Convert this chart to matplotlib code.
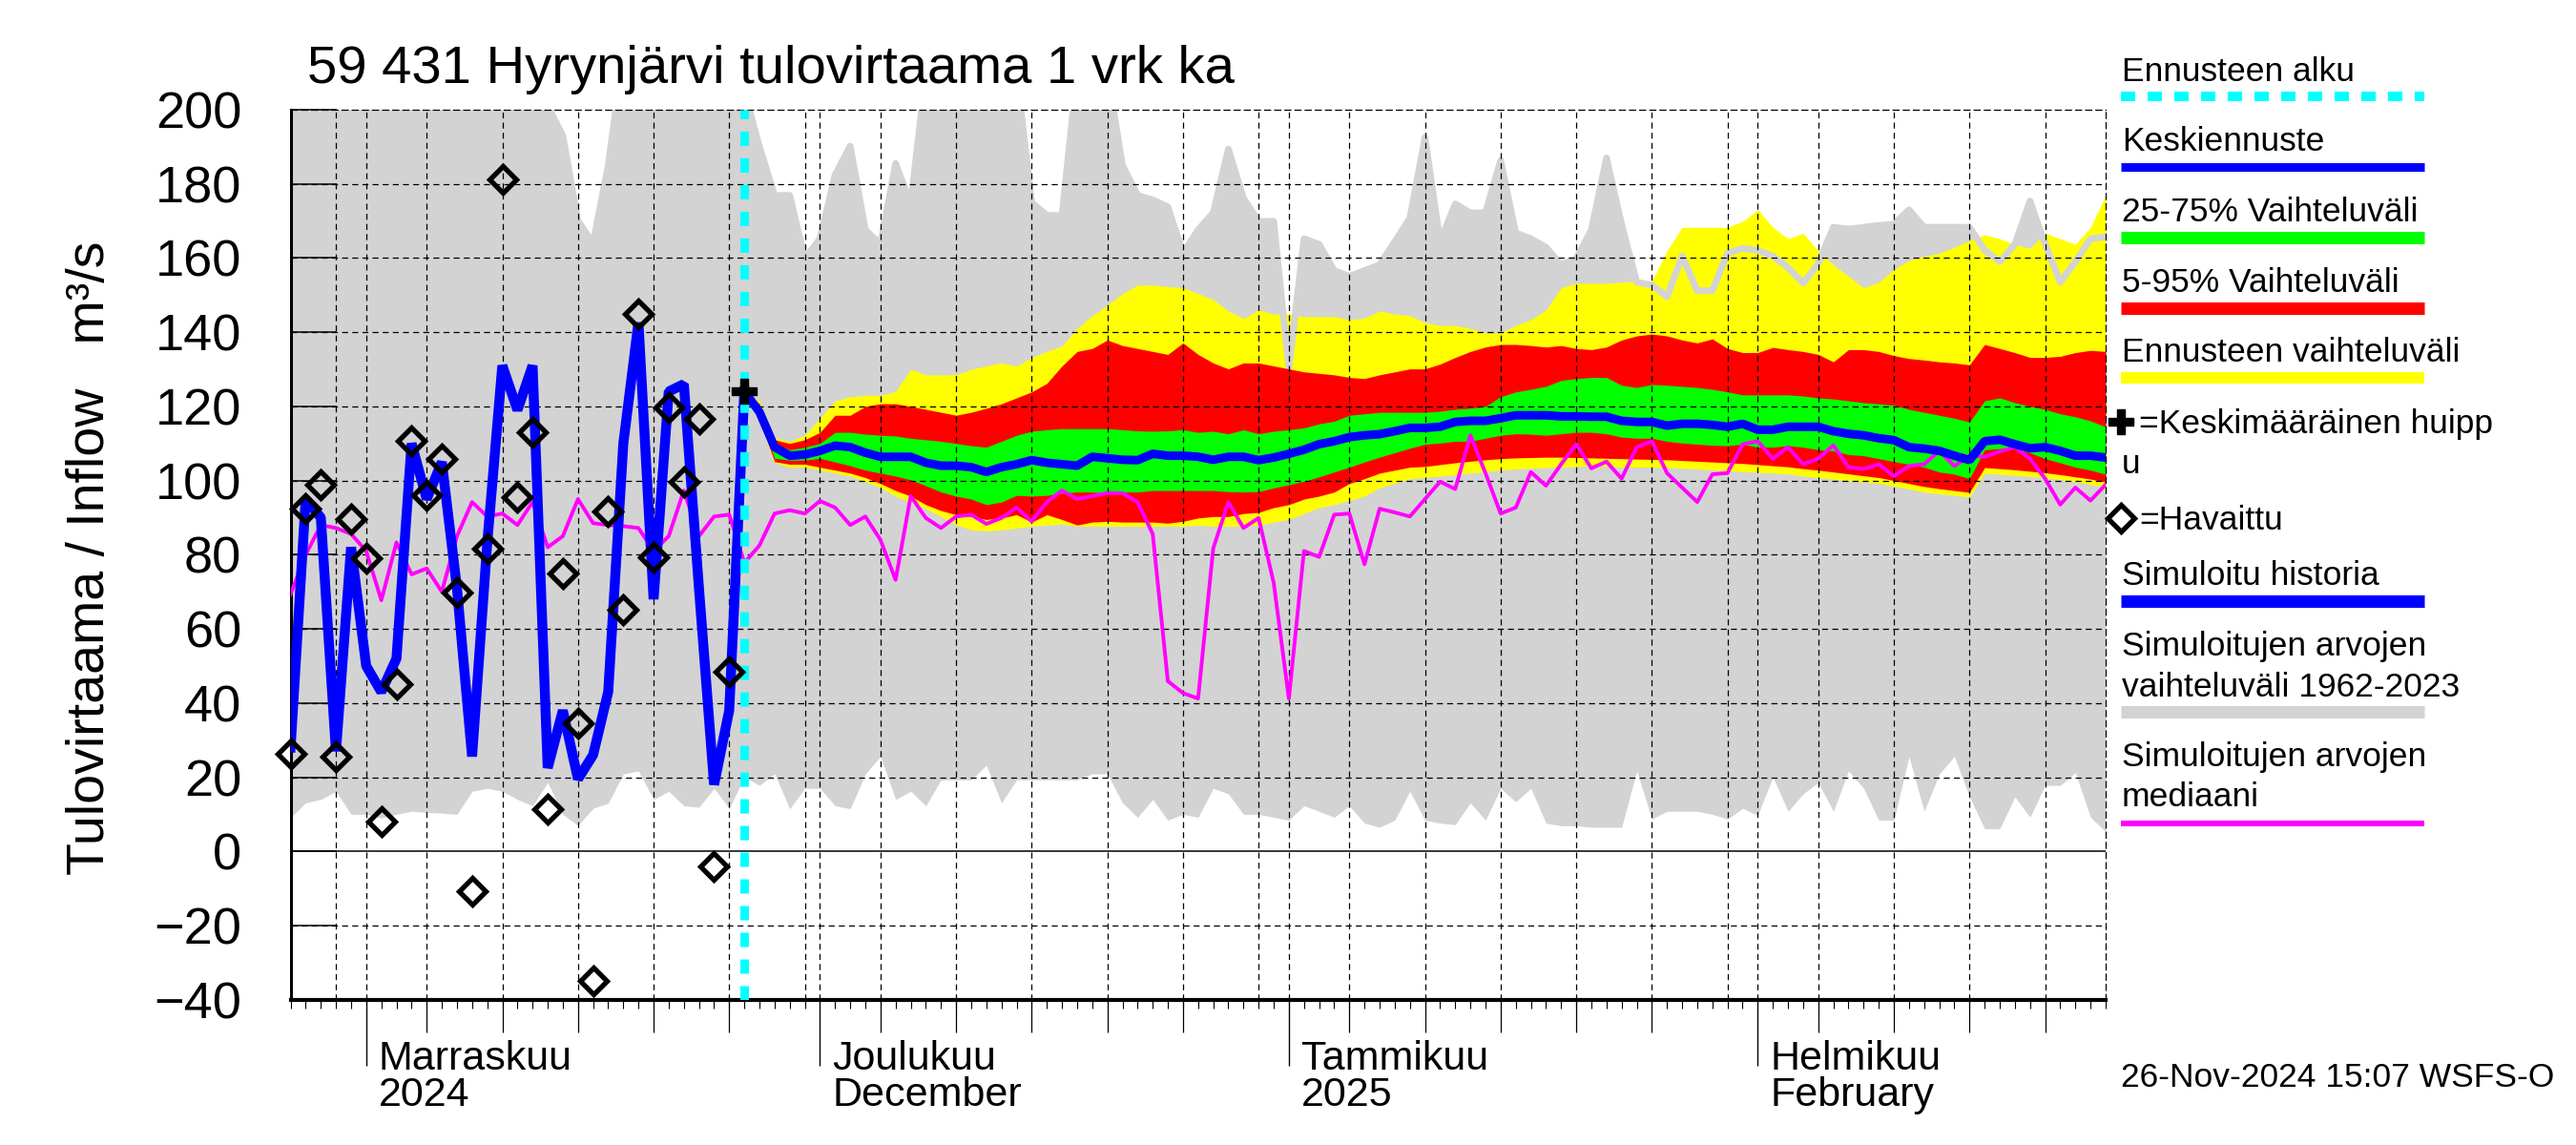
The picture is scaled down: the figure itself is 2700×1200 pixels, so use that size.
import numpy as np
import pandas as pd
import matplotlib
matplotlib.use("Agg")
import matplotlib.pyplot as plt
import matplotlib.dates as mdates
from matplotlib.ticker import NullFormatter
from matplotlib.lines import Line2D

plt.rcParams['font.family'] = ['Liberation Sans', 'DejaVu Sans']

# --- data -------------------------------------------------------------
days = pd.date_range("2024-10-27", "2025-02-24", freq="D")      # 121 days
fc_start = pd.Timestamp("2024-11-26")
fc_days = pd.date_range(fc_start, "2025-02-24", freq="D")       # 91 days

# observed inflow, Oct 27 .. Nov 25
observed = [26.4, 92.4, 98.9, 25.6, 89.5, 79.1, 8.1, 45.1, 110.6, 96.1,
            105.9, 69.7, -10.8, 81.7, 181.1, 95.5, 113, 11.5, 75, 34.6,
            -34.8, 91.6, 65.1, 144.9, 79.4, 119.7, 99.7, 116.5, -4, 48.5]

# simulated history, Oct 27 .. Nov 26
sim_history = [28, 95, 90, 27, 82, 50, 43, 52, 110, 95,
               105, 71, 25.6, 83, 131, 119, 131, 22.5, 38, 19.5,
               26, 43, 110, 142.6, 68, 124, 126, 71, 18, 38, 124]

# simulated 1962-2023 median, Oct 27 .. Feb 24
hist_median = [69.3, 80, 88, 87.2, 85.6, 81, 67.7, 83.3, 74.7, 76.3,
               70, 85, 94.2, 90.3, 91.1, 88, 94.2, 82, 85, 95,
               88.5, 88, 87.7, 87.2, 81, 85, 97.3, 85, 90.3, 90.8,
               77.8, 82.5, 91.1, 92, 91.1, 94.5, 92.7, 88, 90.3, 84,
               73.2, 95.8, 89.9, 87.2, 90.3, 90.8, 88.3, 89.9, 92.7, 89,
               94.2, 97.3, 95, 95.8, 96.6, 96.6, 94.2, 85.6, 45.9, 42.7,
               41.2, 81.7, 94.2, 87.2, 89.9, 72.4, 41.2, 81, 79.4, 90.8,
               91.1, 77.4, 92.4, 91.4, 90.3, 95, 99.7, 97.7, 112.2, 102,
               91.1, 92.7, 102.3, 98.6, 104.4, 109.8, 103.3, 105.1, 100.5, 109,
               110.6, 102, 98.1, 94.2, 101.7, 102, 109.8, 110.6, 105.9, 109,
               104.4, 105.9, 109.5, 103.6, 103.1, 104.4, 101.2, 103.9, 104.4, 108,
               103.9, 106.7, 106.4, 107.8, 109, 105.9, 100.5, 93.5, 98.1, 94.6,
               98.9]

# simulated 1962-2023 range (max / min)
hist_max = [215, 220, 225, 230, 225, 220, 230, 235, 230, 225,
            230, 235, 240, 235, 230, 225, 215, 201, 193, 170,
            164, 185, 215, 225, 230, 235, 230, 225, 220, 215,
            205, 190, 176.9, 176.9, 159.8, 165.2, 182.4, 190.2, 167.6, 163.7,
            185.5, 174.6, 210, 215, 220, 220, 215, 210, 210, 175,
            171.5, 171.5, 210, 215, 210, 185, 176.9, 175.7, 173.8, 161.3,
            167.6, 172.2, 189.4, 176.1, 169.9, 169.9, 130.1, 165.2, 163.7, 156.6,
            155.1, 156.6, 158.2, 164.4, 170.7, 192.5, 164.4, 174.6, 172.2, 172.2,
            186.3, 166.8, 165.2, 162.9, 158.2, 159.8, 167.6, 187, 169.1, 153.5,
            152.7, 149.6, 160.5, 151.2, 151.2, 161.3, 162.6, 162.1, 160.5, 157.4,
            153.2, 158.5, 168.3, 167.8, 168.3, 168.8, 169.1, 173, 168.3, 168.3,
            168.3, 168.3, 162.1, 159, 163.7, 175.4, 163.7, 153.5, 159, 165.2,
            165.7]
hist_min = [9.2, 13.1, 14, 16.2, 10, 10, 9, 10, 10.8, 10.5,
            10.3, 10, 16.2, 17, 16.2, 14, 12.3, 18.6, 10, 7,
            11.6, 13, 20.9, 21.7, 14, 16.2, 12.3, 11.9, 17, 11.6,
            20.1, 17.8, 20.9, 11.5, 17, 17, 12.3, 11.5, 20.9, 25.6,
            14, 16.2, 12.3, 19.3, 19.3, 19.3, 23.2, 13.1, 19.3, 19.3,
            19.3, 19.3, 19.3, 20.9, 20.9, 13.1, 9.2, 14, 8.4, 10,
            9.2, 17, 15.5, 10, 10, 9.2, 8.4, 12.3, 10.8, 9.2,
            12.3, 7.6, 6.5, 8.4, 16.2, 8.4, 7.6, 7.2, 13.1, 8.4,
            17, 13.4, 17, 7.6, 6.9, 6.9, 6.5, 6.5, 6.5, 21.7,
            8.7, 10.8, 10.8, 10.8, 10, 8.7, 11.6, 9.7, 20.1, 10.8,
            15.5, 18.6, 10.8, 21.7, 17, 8.4, 8.4, 25.6, 10.8, 20.9,
            25.6, 14.7, 6.1, 6.1, 14.7, 9.2, 17.8, 17.8, 21.2, 9.2,
            5.3]

# forecast, Nov 26 .. Feb 24
fc_mean = [124, 118.5, 109, 106.7, 107, 108, 109.4, 109, 107.5, 106.4,
           106.4, 106.4, 104.8, 104, 104, 103.6, 102.3, 103.6, 104.4, 105.5,
           104.8, 104.4, 104, 106.4, 106, 105.6, 105.5, 107.2, 106.7, 106.7,
           106.4, 105.6, 106.4, 106.4, 105.5, 106.2, 107.2, 108.3, 109.8, 110.6,
           111.7, 112.2, 112.5, 113.3, 114.2, 114.2, 114.5, 115.8, 116.1, 116.1,
           116.8, 117.6, 117.6, 117.6, 117.3, 117.3, 117.2, 117.2, 116.1, 115.8,
           115.8, 114.8, 115.3, 115.3, 115, 114.5, 115.3, 113.7, 113.7, 114.5,
           114.5, 114.5, 113.3, 112.6, 112.2, 111.4, 110.9, 109, 108.6, 108,
           106.7, 105.5, 110.6, 111, 109.8, 108.7, 109, 108, 106.7, 106.7,
           106.2]
fc_p75 = [124, 119.5, 110, 108.3, 109, 110, 113, 113, 112.5, 112.2,
          112, 111.4, 111, 110.6, 110, 109.4, 109, 110.6, 112.2, 113.3,
          113.7, 114, 114, 114, 114, 113.7, 113.4, 113.3, 113.4, 113.7,
          113, 113.3, 112.6, 113.7, 112.6, 113.3, 113.7, 114.2, 115.3, 116,
          117.6, 118, 118.4, 118.4, 118.4, 118.4, 118.7, 119.2, 119.5, 120,
          122.6, 123.9, 124.6, 125.4, 127, 127.5, 127.8, 127.8, 125.7, 125.1,
          125.9, 125.7, 125.4, 125.1, 124.6, 123.9, 123.1, 123.1, 123.1, 123.1,
          122.8, 122.3, 122, 121.5, 121, 120.7, 120.3, 119.2, 118.4, 117.6,
          116.8, 115.8, 121.5, 122.3, 121, 120, 119.2, 118, 117.2, 116.1,
          114.5]
fc_p25 = [124, 117.5, 106, 105.5, 105.5, 106, 105, 104, 102.8, 102,
          101.2, 100.2, 98.6, 96.9, 95.8, 95, 93.5, 94.2, 96, 95.8,
          96, 96.6, 96.9, 96.9, 96.6, 96.9, 96.9, 97.3, 97.3, 97.3,
          97.3, 97.3, 97, 96.9, 97, 98, 98.9, 99.8, 101, 102.3,
          103.6, 105, 106.3, 107.5, 108.7, 109.8, 110.1, 110.6, 110.6, 111.4,
          112.2, 112.6, 112.5, 112.2, 112.6, 113, 113, 112.6, 111.7, 111.4,
          111.4, 110.6, 110.1, 109.8, 109.5, 109.4, 109.8, 109, 109, 109.4,
          109, 108.3, 108, 107, 106.7, 105.9, 105.1, 104.4, 103.6, 102.3,
          101.7, 100.5, 108.3, 108.6, 108.6, 107.5, 105.9, 104.8, 103.6, 102.8,
          101.7]
fc_p95 = [124, 120.7, 111, 110, 111, 113, 117.6, 117.6, 120, 120.7,
          120.7, 120, 119.2, 118.4, 117.6, 118.4, 119.5, 120.7, 122.3, 123.9,
          126.2, 130.9, 134.8, 135.6, 137.9, 136.4, 135.6, 134.8, 134, 137.1,
          134, 131.7, 130.1, 131.7, 131.7, 130.9, 130.1, 129.3, 128.9, 128.5,
          127.8, 127.5, 128.5, 129.3, 130.1, 130.1, 131.4, 133.2, 134.8, 136,
          136.7, 136.7, 136.4, 136, 136.4, 135.6, 135.3, 136, 137.9, 139,
          139.5, 139, 137.9, 137.1, 138.2, 135.6, 134.5, 134.5, 135.9, 135.3,
          134.8, 134, 132, 135.3, 135.3, 134.8, 133.7, 132.9, 132.5, 132,
          131.7, 131.2, 136.7, 135.6, 134.5, 133.2, 133.2, 133.5, 134.5, 135.1,
          134.8]
fc_p05 = [124, 116.5, 105.1, 104.4, 104.4, 103.6, 102.8, 102, 100.8, 99.2,
          97.3, 95.8, 93.5, 91.9, 90.8, 90.3, 89.5, 89.9, 90.8, 88.8,
          90.8, 89.5, 88, 88.8, 89, 88.8, 88.8, 88.8, 88.5, 89,
          89.9, 90.3, 90.3, 91.1, 91.4, 92.7, 93.5, 95, 95.8, 96.9,
          99.2, 100.5, 102, 102.8, 103.6, 103.8, 104.3, 104.8, 105.2, 105.6,
          105.9, 106.1, 106.2, 106.3, 106.3, 106.2, 106.1, 106, 105.9, 105.8,
          105.7, 105.6, 105.4, 105.2, 105, 104.8, 104.6, 104.3, 104, 103.7,
          103.2, 102.8, 102.3, 101.8, 101.3, 100.8, 100, 99.2, 98.4, 97.8,
          97.3, 96.8, 103.5, 103.2, 102.9, 102.5, 102.1, 101.6, 101, 100.4,
          99.6]
fc_max = [124, 121.5, 111.5, 110.6, 112.2, 116.8, 121.5, 122.6, 123, 123,
          124, 130, 128.5, 128.5, 128.5, 130, 130.9, 131.7, 130.9, 133.2,
          134.8, 136.3, 141, 144.5, 147.3, 150.4, 152.7, 152.7, 152.3, 152,
          150.4, 148.8, 145.7, 143.7, 146, 144.9, 145, 144.2, 144.2, 144.2,
          143.4, 143.8, 145.7, 144.9, 144.5, 142.6, 141.8, 141.8, 141, 139.8,
          139.8, 141.8, 143.4, 146, 152, 153.2, 153.2, 153.2, 153.5, 153.8,
          153.8, 162, 168.3, 168.3, 168.3, 168.3, 169.9, 173, 168.3, 165.2,
          166.7, 162, 158.2, 155.1, 152, 153.5, 156.9, 159.4, 160.5, 161.3,
          162.9, 164.7, 166.3, 165.2, 163.7, 162.6, 166.7, 165.2, 163.7, 168.3,
          176.9]
fc_min = [124, 116, 104.8, 103.6, 103.6, 102.8, 102, 101.2, 99.7, 98.1,
          95.8, 94.2, 92.4, 90.3, 88, 86.7, 86.4, 86.7, 87.2, 87.7,
          88, 88.3, 87.7, 87.7, 87.7, 87.7, 87.7, 87.7, 87.7, 87.7,
          88, 87.7, 87.7, 87.7, 88, 88.8, 89.5, 91.1, 92.7, 93.5,
          94.6, 95.8, 98.1, 99.2, 100.5, 100.8, 101.2, 101.6, 102, 102.4,
          102.8, 103.1, 103.3, 103.5, 103.6, 103.8, 103.9, 103.8, 103.6, 103.6,
          103.6, 103.5, 103.3, 103.1, 102.9, 102.6, 102.4, 102.2, 102, 101.8,
          101.2, 100.8, 100.4, 100, 99.6, 99.2, 98.5, 97.7, 96.9, 96.4,
          96, 95.5, 102, 101.7, 101.4, 101.1, 100.7, 100.3, 99.7, 99,
          98.1]

peak_value = [124]

month_starts = ["2024-11-01", "2024-12-01", "2025-01-01", "2025-02-01"]
month_labels = ["Marraskuu\n2024", "Joulukuu\nDecember", "Tammikuu\n2025", "Helmikuu\nFebruary"]
y_ticks = [-40, -20, 0, 20, 40, 60, 80, 100, 120, 140, 160, 180, 200]

# --- figure -----------------------------------------------------------
fig = plt.figure(figsize=(27, 12), dpi=100)
ax = fig.add_axes([0.1128, 0.1269, 0.7046, 0.7773])

gray = '#d3d3d3'
ax.fill_between(days, hist_min, hist_max, color=gray, lw=0, zorder=1)
ax.fill_between(fc_days, fc_min, fc_max, color='#ffff00', lw=0, zorder=1.1)
ax.plot(days, hist_max, color=gray, lw=5, zorder=1.15)
ax.fill_between(fc_days, fc_p05, fc_p95, color='#ff0000', lw=0, zorder=1.2)
ax.fill_between(fc_days, fc_p25, fc_p75, color='#00ff00', lw=0, zorder=1.3)

# grid
dash = (0, (5, 3.5))
for d in days:
    if d.day in (1, 5, 10, 15, 20, 25, 30):
        ax.axvline(d, color='k', lw=0.9, ls=dash, zorder=1.5)
for v in y_ticks[1:-1]:
    if v == 0:
        ax.axhline(v, color='k', lw=1.1, zorder=1.5)
    else:
        ax.axhline(v, color='k', lw=0.9, ls=dash, zorder=1.5)

ax.plot(days, hist_median, color='#ff00ff', lw=2.8, zorder=3.5)
ax.plot(days[:len(sim_history)], sim_history, color='#0000ff', lw=7.5,
        solid_joinstyle='bevel', zorder=4)
ax.plot(fc_days, fc_mean, color='#0000ff', lw=6.5, solid_joinstyle='bevel', zorder=4)
ax.axvline(fc_start, color='#00ffff', lw=6.5, dashes=(1.66, 1.44), zorder=4.5)
ax.plot(days[:len(observed)], observed, ls='none', marker='D', ms=14, mfc='none',
        mec='k', mew=3.8, zorder=5, clip_on=False)
ax.plot([fc_start], peak_value, ls='none', marker='P', ms=19, color='k', zorder=6)

# axes
ax.set_xlim(days[0], days[-1])
ax.set_ylim(-40, 200)
ax.set_yticks(y_ticks)
ax.tick_params(axis='y', direction='in', length=34.5, width=1.1, pad=37, labelsize=39)
ax.xaxis.set_major_locator(mdates.MonthLocator())
ax.xaxis.set_minor_locator(mdates.DayLocator())
ax.xaxis.set_major_formatter(NullFormatter())
ax.tick_params(axis='x', which='major', direction='out', length=50, width=1.0)
ax.tick_params(axis='x', which='minor', direction='out', length=6.5, width=0.8)
five = [mdates.date2num(d) for d in days if d.day in (5, 10, 15, 20, 25)]
ax.vlines(five, -0.0365, 0, transform=ax.get_xaxis_transform(), colors='k',
          lw=0.9, clip_on=False)
for s in ['top', 'right']:
    ax.spines[s].set_linestyle(dash)
    ax.spines[s].set_linewidth(0.9)
ax.spines['left'].set_linewidth(2.2)
ax.spines['bottom'].set_linewidth(3)

for m, lab in zip(month_starts, month_labels):
    xm = mdates.date2num(pd.Timestamp(m)) + 0.8
    ax.text(xm, -0.045, lab, transform=ax.get_xaxis_transform(), ha='left', va='top',
            fontsize=31, linespacing=0.95)

fig.text(0.1193, 0.9275, "59 431 Hyrynjärvi tulovirtaama 1 vrk ka", fontsize=40.5,
         va='baseline', ha='left')
fig.text(0.0352, 0.513, "Tulovirtaama / Inflow   m³/s", fontsize=40, rotation=90,
         ha='center', va='center')
fig.text(0.8233, 0.051, "26-Nov-2024 15:07 WSFS-O", fontsize=25.5, va='baseline')

# legend, drawn by hand on the right
lx0, lx1, tx = 0.8233, 0.9411, 0.8237
fs = 25.5
legend_rows = [
    ("Ennusteen alku", 0.9292, 0.9158, '#00ffff', 7.2, (1.5, 1.3)),
    ("Keskiennuste", 0.8683, 0.8542, '#0000ff', 6.5, None),
    ("25-75% Vaihteluväli", 0.8067, 0.7925, '#00ff00', 9.4, None),
    ("5-95% Vaihteluväli", 0.745, 0.7308, '#ff0000', 9.4, None),
    ("Ennusteen vaihteluväli", 0.6842, 0.67, '#ffff00', 8.6, None),
    ("Simuloitu historia", 0.4892, 0.475, '#0000ff', 9.4, None),
]
for txt, ty, ly, col, lw, dsh in legend_rows:
    fig.text(tx, ty, txt, fontsize=fs, va='baseline')
    ln = Line2D([lx0, lx1], [ly, ly], transform=fig.transFigure, color=col, lw=lw,
                solid_capstyle='butt', dash_capstyle='butt')
    if dsh:
        ln.set_dashes(dsh)
    fig.add_artist(ln)

fig.text(0.8303, 0.6217, "=Keskimääräinen huipp", fontsize=fs, va='baseline')
fig.text(tx, 0.5867, "u", fontsize=fs, va='baseline')
fig.add_artist(Line2D([0.8233], [0.6317], transform=fig.transFigure, marker='P',
                      ms=19, color='k', ls='none'))
fig.text(0.8303, 0.5375, "=Havaittu", fontsize=fs, va='baseline')
fig.add_artist(Line2D([0.8233], [0.5475], transform=fig.transFigure, marker='D',
                      ms=14, mfc='none', mec='k', mew=3.8, ls='none'))

fig.text(tx, 0.4275, "Simuloitujen arvojen", fontsize=fs, va='baseline')
fig.text(tx, 0.3917, "vaihteluväli 1962-2023", fontsize=fs, va='baseline')
fig.add_artist(Line2D([lx0, lx1], [0.3783, 0.3783], transform=fig.transFigure,
                      color=gray, lw=9.4, solid_capstyle='butt'))
fig.text(tx, 0.3308, "Simuloitujen arvojen", fontsize=fs, va='baseline')
fig.text(tx, 0.2958, "mediaani", fontsize=fs, va='baseline')
fig.add_artist(Line2D([lx0, lx1], [0.2808, 0.2808], transform=fig.transFigure,
                      color='#ff00ff', lw=4.3, solid_capstyle='butt'))

fig.savefig("out.png", dpi=100)
